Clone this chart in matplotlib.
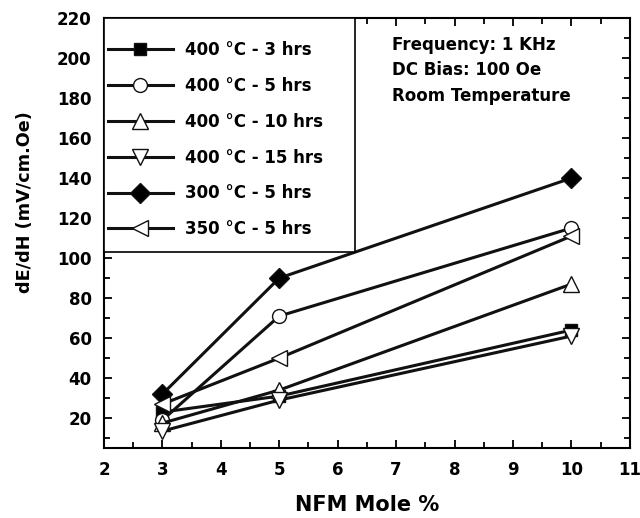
import matplotlib
matplotlib.use("Agg")
import matplotlib.pyplot as plt
from matplotlib.patches import Rectangle
from matplotlib.ticker import MultipleLocator

plt.rcParams['font.family'] = ['DejaVu Sans']
plt.rcParams['font.weight'] = 'bold'

mole = [3, 5, 10]
labels = ["400 °C - 3 hrs", "400 °C - 5 hrs", "400 °C - 10 hrs",
          "400 °C - 15 hrs", "300 °C - 5 hrs", "350 °C - 5 hrs"]
s400_3 = [23, 31, 64]
s400_5 = [19, 71, 115]
s400_10 = [17.5, 34, 87]
s400_15 = [13.5, 29, 61]
s300_5 = [32, 90, 140]
s350_5 = [27, 50, 111]

series = [s400_3, s400_5, s400_10, s400_15, s300_5, s350_5]
markers = ['s', 'o', '^', 'v', 'D', '<']
fills = ['black', 'white', 'white', 'white', 'black', 'white']
sizes = [8, 10, 11, 11, 10, 11]

fig = plt.figure(figsize=(6.4, 5.18), dpi=100)
ax = fig.add_axes([0.1625, 0.135, 0.8215, 0.83])

for vals, lab, m, fc, ms in zip(series, labels, markers, fills, sizes):
  ax.plot(mole, vals, color='#111111', lw=2.2, marker=m, ms=ms,
          mfc=fc, mec='#111111', mew=1.0, label=lab)

ax.set_xlim(2, 11)
ax.set_ylim(5, 220)
ax.xaxis.set_major_locator(MultipleLocator(1))
ax.xaxis.set_minor_locator(MultipleLocator(0.5))
ax.yaxis.set_minor_locator(MultipleLocator(10))
ax.set_yticks(range(20, 221, 20))
ax.tick_params(which='both', direction='in', top=True, right=True, width=1.3,
               labelsize=12, pad=9)
ax.tick_params(which='major', length=6)
ax.tick_params(which='minor', length=4)
for sp in ax.spines.values():
  sp.set_linewidth(1.5)

ax.set_xlabel("NFM Mole %", fontsize=15, fontweight='bold', labelpad=12)
ax.set_ylabel("dE/dH (mV/cm.Oe)", fontsize=12.7, fontweight='bold')
ax.yaxis.set_label_coords(-0.133, 0.572)

# legend box drawn by hand so the padding can differ per side
ax.add_patch(Rectangle((0, 0.456), 0.477, 0.544, transform=ax.transAxes,
                       facecolor='white', edgecolor='black', lw=1.2,
                       zorder=4.5, clip_on=False))
leg = ax.legend(loc='upper left', bbox_to_anchor=(0.0076, 0.9465),
                frameon=False, fontsize=12, numpoints=1, borderpad=0,
                borderaxespad=0, handlelength=3.9, labelspacing=1.07,
                handletextpad=0.72)
leg.set_zorder(5)

ax.text((392 - 104) / 526, 0.959,
        "Frequency: 1 KHz\nDC Bias: 100 Oe\nRoom Temperature",
        transform=ax.transAxes, ha='left', va='top', fontsize=12,
        fontweight='bold', linespacing=1.55)

fig.savefig("out.png", dpi=100)
